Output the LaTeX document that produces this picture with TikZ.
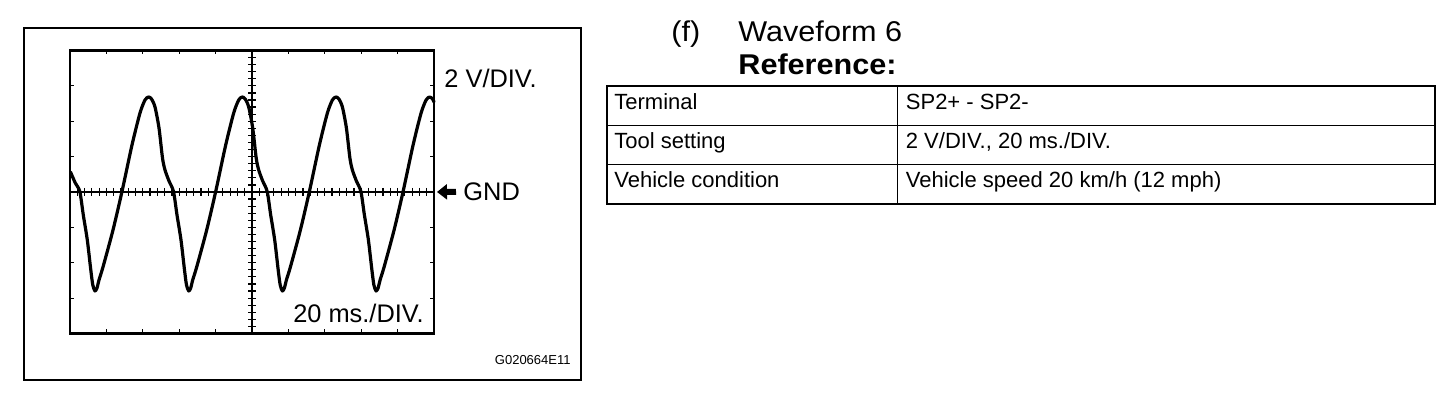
\documentclass[tikz,border=0pt]{standalone}
\usepackage{fontspec}
\setmainfont{Liberation Sans}
\newfontfamily\titlefont[FakeStretch=1.07]{Liberation Sans}
\usetikzlibrary{arrows.meta}
\tikzset{
  boxline/.style={line width=1pt},
  frameline/.style={line width=1.1pt},
  axisline/.style={line width=1pt},
  tickline/.style={line width=0.6pt},
  wave/.style={line width=1.6pt, line join=round, line cap=round},
  scopelabel/.style={inner sep=0pt, font=\fontsize{12.7}{14}\selectfont},
  titlelabel/.style={inner sep=0pt, font=\titlefont\fontsize{14.3}{16}\selectfont},
  celltext/.style={inner sep=0pt, anchor=base west, font=\fontsize{11}{13}\selectfont},
  gndarrow/.style={line width=3pt, -{Triangle[length=5pt,width=7.5pt]}}
}
\begin{document}
\begin{tikzpicture}[x=0.5pt,y=-0.5pt]
\useasboundingbox (0,0) rectangle (1456,400);
% outer box
\draw[boxline] (24,28) rectangle (580.5,380.5);
% scope frame
\draw[frameline] (70,50.5) rectangle (434,333.5);
% frame ticks
\foreach \i in {1,...,9} {
  \draw[tickline] (70+36.4*\i,50.5) -- ++(0,4);
  \draw[tickline] (70+36.4*\i,333.5) -- ++(0,-4);
}
\foreach \j in {1,...,7} {
  \draw[tickline] (70,50.5+35.375*\j) -- ++(4,0);
  \draw[tickline] (434,50.5+35.375*\j) -- ++(-4,0);
}
% centre axes
\draw[axisline] (70,192) -- (434,192);
\draw[axisline] (252,50.5) -- (252,333.5);
\foreach \i in {1,...,49} \draw[tickline] (70+7.28*\i,188) -- ++(0,8);
\foreach \j in {1,...,39} \draw[tickline] (248,50.5+7.075*\j) -- ++(8,0);
% waveform
\draw[wave] plot[smooth, tension=0.45] coordinates {
(70.5,172) (75.3,183) (79.8,191.5) (83.3,215) (87.3,240) (90.8,270) (92.8,285)
(95,291) (97,288) (99,280) (103,267) (113,230) (122,191.5) (132,145) (140,113) (145,100) (148.5,97) (151.5,99) (155,107) (159,128) (162.5,158) (165,170) (169,181) (173.5,191.5) (177,215) (181,240) (184.5,270) (186.5,285)
(188.7,291) (190.7,288) (192.7,280) (196.7,267) (206.7,230) (215.7,191.5) (225.7,145) (233.7,113) (238.7,100) (242.2,97) (245.2,99) (248.7,107) (252.7,128) (256.2,158) (258.7,170) (262.7,181) (267.2,191.5) (270.7,215) (274.7,240) (278.2,270) (280.2,285)
(282.4,291) (284.4,288) (286.4,280) (290.4,267) (300.4,230) (309.4,191.5) (319.4,145) (327.4,113) (332.4,100) (335.9,97) (338.9,99) (342.4,107) (346.4,128) (349.9,158) (352.4,170) (356.4,181) (360.9,191.5) (364.4,215) (368.4,240) (371.9,270) (373.9,285)
(376.1,291) (378.1,288) (380.1,280) (384.1,267) (394.1,230) (403.1,191.5) (413.1,145) (421.1,113) (426.1,100) (429.6,97) (432.6,99) (434,102)
};
% scope labels
\node[scopelabel, anchor=base west] (vdiv) at (444,87.3) {2 V/DIV.};
\node[scopelabel, anchor=base east] (msdiv) at (424,322.7) {20 ms./DIV.};
\node[scopelabel, anchor=base west] (gnd) at (463,200.5) {GND};
\coordinate (gndtip) at (437,192);
\draw[gndarrow] ([xshift=-3.5pt]gnd.west) -- (gndtip);
\node[inner sep=0pt, anchor=base east, font=\fontsize{6.5}{8}\selectfont] (code) at (571,365) {G020664E11};
% title
\node[titlelabel, anchor=base west] (letter) at (671,41.5) {(f)};
\node[titlelabel, anchor=base west] (title) at (738,41.5) {Waveform 6};
\node[titlelabel, anchor=base west, font=\titlefont\bfseries\fontsize{14.3}{16}\selectfont] (refhead) at (738,75) {Reference:};
% table
\draw[boxline] (607,86.5) rectangle (1435,204);
\draw[line width=0.75pt] (607,125.5) -- (1435,125.5);
\draw[line width=0.75pt] (607,164.5) -- (1435,164.5);
\draw[line width=0.75pt] (897.5,86.5) -- (897.5,204);
\node[celltext] (c11) at (614,110) {Terminal};
\node[celltext] (c12) at (905.5,110) {SP2+ - SP2-};
\node[celltext] (c21) at (614,149) {Tool setting};
\node[celltext] (c22) at (905.5,149) {2 V/DIV., 20 ms./DIV.};
\node[celltext] (c31) at (614,188) {Vehicle condition};
\node[celltext] (c32) at (905.5,188) {Vehicle speed 20 km/h (12 mph)};
\end{tikzpicture}
\end{document}
